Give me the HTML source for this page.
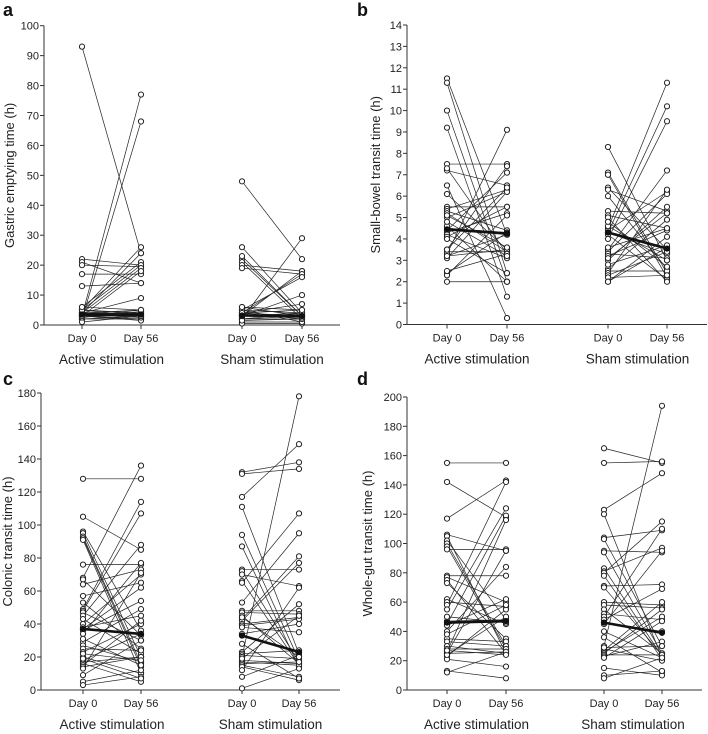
<!DOCTYPE html>
<html><head><meta charset="utf-8"><style>
html,body{margin:0;padding:0;background:#fff}
svg{display:block;font-family:"Liberation Sans",Arial,sans-serif}
</style></head><body>
<svg id="fig" width="708" height="734" viewBox="0 0 708 734" xmlns="http://www.w3.org/2000/svg"></svg>
<script>
// Panel a: gastric emptying (Day 0 / Day 56 pairs)
const aActD0 =[93,3,2,5,4,22,21,20,17,13,6,5,4,3,4,3,4,3,3,2,4,5,3,2,1,3,4,2.5,3.5,5,6,3];
const aActD56=[24,77,68,26,24,20,14,19.5,17,14,21,20,19,18,9,5,5,4,3,3,4,3,2,2,3,1.5,3.5,4.5,2.5,4,5,3];
const aShD0  =[48,26,22,21,20,19,23,2,3,4,5,3,4,6,5,4,3,2,1,3,2,4,0.5,5,3,2,6,1.5,4,3];
const aShD56 =[22,4,3,2,18,17,3,29,18,17,16,10,7,5,4,3,3,2,1,4,3,2,0.5,1,3.5,4,3,2,5,2.5];
const aMed=[3.5,3.5,3.2,3.0];
// Panel b: small-bowel transit
const bActD0 =[11.5,11.3,10.0,9.2,7.5,7.2,7.3,6.5,6.1,5.5,5.4,5.3,5.2,5.0,4.5,4.4,4.3,4.2,4.1,4.0,3.5,3.4,3.3,3.2,3.1,3.2,2.4,2.3,2.0,2.5,4.6,5.1,3.5,4.8];
const bActD56=[4.2,2.4,2.0,1.3,7.5,6.5,3.3,0.3,3.5,5.5,6.3,4.4,3.4,6.2,4.3,7.1,5.2,3.1,5.5,2.4,7.4,3.4,9.1,4.2,6.2,3.5,4.3,5.1,2.0,3.3,2.0,3.6,6.4,3.2];
const bShD0  =[8.3,7.1,7.0,6.4,6.3,6.0,5.3,5.1,4.5,4.4,4.3,4.3,4.2,4.0,3.5,3.4,3.3,3.2,3.0,2.6,2.5,2.4,2.3,2.2,2.0,2.0,5.0,4.6,3.1,3.6,4.8,2.8];
const bShD56 =[3.0,2.4,2.2,3.5,5.3,2.6,5.2,4.5,11.3,6.2,10.2,3.3,2.1,9.5,7.2,6.1,3.1,4.4,5.5,4.9,2.5,6.3,3.4,2.3,4.1,3.6,2.0,3.0,5.2,4.5,2.7,3.7];
const bMed=[4.45,4.25,4.3,3.55];
// Panel c: colonic transit
const cActD0 =[128,105,96,95,93,92,91,76,68,67,64,57,53,49,48,47,45,43,40,38,37,36,34,29,27,25,23,20,18,17,16,15,14,13,9,5,3,22,19,31];
const cActD56=[128,85,36,20,16,14,10,76,136,33,73,65,25,114,107,30,88,22,70,45,62,54,77,49,17,24,40,10,34,20,5,42,20,71,30,12,8,18,7,15];
const cShD0  =[132,131,117,111,94,87,73,72,70,66,65,53,48,47,45,43,42,40,39,38,34,33,23,22,21,20,18,17,16,15,14,12,8,1,19,28,44];
const cShD56 =[138,134,149,22,18,14,73,17,63,15,107,95,48,46,16,81,77,44,43,35,40,23,52,24,19,178,16,15,17,8,6,62,21,13,45,7,20];
const cMed=[37,34,33,23];
// Panel d: whole-gut transit
const dActD0 =[155,142,117,106,105,102,100,98,96,78,77,75,73,62,60,58,55,47,45,44,40,35,33,30,28,26,25,25,23,21,13,12,24,27,50,38];
const dActD56=[155,118,143,95,25,48,30,28,96,78,60,25,35,45,57,142,124,48,119,62,84,33,30,25,28,116,26,95,55,16,8,26,50,24,46,58];
const dShD0  =[165,155,123,120,104,103,95,94,83,81,80,78,71,70,60,58,55,52,50,48,46,45,40,36,30,28,27,26,25,24,23,15,10,8,22,29];
const dShD56 =[155,156,148,22,109,30,94,25,23,97,115,21,72,24,58,56,25,48,110,69,40,95,22,12,194,20,60,50,55,24,33,10,13,22,47,30];
const dMed=[46,47,46,39];
const aTicks=[0,10,20,30,40,50,60,70,80,90,100];
const bTicks=[0,1,2,3,4,5,6,7,8,9,10,11,12,13,14];
const cTicks=[0,20,40,60,80,100,120,140,160,180];
const dTicks=[0,20,40,60,80,100,120,140,160,180,200];

const NS='http://www.w3.org/2000/svg';
const fig=document.getElementById('fig');
function mk(tag,attrs,parent,txt){const e=document.createElementNS(NS,tag);for(const k in attrs)e.setAttribute(k,attrs[k]);if(txt!==undefined)e.textContent=txt;(parent||fig).appendChild(e);return e;}

function panel(o){
  const g=mk('g',{});
  
  
  const y=v=>o.y0-(v/o.max)*(o.y0-o.yTop);
  // letter
  const L=mk('text',{x:o.lx,y:o.ly,'font-size':18,'font-weight':'bold',fill:'#111'},g,o.letter);
  
  
  // axes
  const ya=mk('line',{x1:o.ax,y1:o.yTop,x2:o.ax,y2:o.y0,stroke:'#333','stroke-width':1},g);
  
  
  const xa=mk('line',{x1:o.ax,y1:o.y0,x2:o.xEnd,y2:o.y0,stroke:'#333','stroke-width':1},g);
  
  
  o.ticks.forEach(t=>{
    mk('line',{x1:o.ax-4,y1:y(t),x2:o.ax,y2:y(t),stroke:'#333','stroke-width':1},g);
    const tl=mk('text',{x:o.ax-5,y:y(t)+4,'font-size':11,'text-anchor':'end',fill:'#222'},g,String(t));
    
    
  });
  const yt=mk('text',{x:0,y:0,'font-size':13,'text-anchor':'middle',fill:'#222',transform:`translate(${o.titleX},${(o.y0+o.yTop)/2}) rotate(-90)`},g,o.title);
  
  
  o.xs.forEach((x,i)=>{
    mk('line',{x1:x,y1:o.y0,x2:x,y2:o.y0+4,stroke:'#333','stroke-width':1},g);
    const xl=mk('text',{x:x,y:o.y0+17,'font-size':11,'text-anchor':'middle',fill:'#222'},g,i%2?'Day 56':'Day 0');
    
    
  });
  const gl1=mk('text',{x:(o.xs[0]+o.xs[1])/2,y:o.y0+39,'font-size':13.5,'text-anchor':'middle',fill:'#222'},g,'Active stimulation');
  
  
  const gl2=mk('text',{x:(o.xs[2]+o.xs[3])/2,y:o.y0+39,'font-size':13.5,'text-anchor':'middle',fill:'#222'},g,'Sham stimulation');
  
  
  const groups=[[o.act0,o.act56,o.xs[0],o.xs[1]],[o.sh0,o.sh56,o.xs[2],o.xs[3]]];
  groups.forEach(([d0,d56,x0,x1])=>{
    d0.forEach((v,i)=>{
      const l=mk('line',{x1:x0,y1:y(v),x2:x1,y2:y(d56[i]),stroke:'#222','stroke-width':0.7},g);
      
      
    });
  });
  // medians
  [[o.med[0],o.med[1],o.xs[0],o.xs[1]],[o.med[2],o.med[3],o.xs[2],o.xs[3]]].forEach(([a,b,x0,x1])=>{
    const m=mk('line',{x1:x0,y1:y(a),x2:x1,y2:y(b),stroke:'#111','stroke-width':2.6},g);
    
    
  });
  groups.forEach(([d0,d56,x0,x1])=>{
    d0.forEach((v,i)=>{
      const c1=mk('circle',{cx:x0,cy:y(v),r:2.6,fill:'#fff',stroke:'#222','stroke-width':1},g);
      
      
      const c2=mk('circle',{cx:x1,cy:y(d56[i]),r:2.6,fill:'#fff',stroke:'#222','stroke-width':1},g);
      
      
    });
  });
  [[o.med[0],o.xs[0]],[o.med[1],o.xs[1]],[o.med[2],o.xs[2]],[o.med[3],o.xs[3]]].forEach(([v,x])=>{
    const mc=mk('circle',{cx:x,cy:y(v),r:2.6,fill:'#111',stroke:'#111'},g);
    
    
  });
}
panel({letter:'a',lx:3,ly:16,ax:44,y0:325,yTop:25.7,max:100,xEnd:340,titleX:14,ticks:aTicks,xs:[82,141,242,302],
  title:'Gastric emptying time (h)',act0:aActD0,act56:aActD56,sh0:aShD0,sh56:aShD56,med:aMed});
panel({letter:'b',lx:357,ly:16,ax:407,y0:324.5,yTop:25,max:14,xEnd:707,titleX:380,ticks:bTicks,xs:[447,507,608,667],
  title:'Small-bowel transit time (h)',act0:bActD0,act56:bActD56,sh0:bShD0,sh56:bShD56,med:bMed});
panel({letter:'c',lx:3,ly:385,ax:41,y0:690,yTop:393,max:180,xEnd:340,titleX:12,ticks:cTicks,xs:[83,141,242,299],
  title:'Colonic transit time (h)',act0:cActD0,act56:cActD56,sh0:cShD0,sh56:cShD56,med:cMed});
panel({letter:'d',lx:357,ly:385,ax:407,y0:690,yTop:397,max:200,xEnd:702,titleX:372,ticks:dTicks,xs:[447,506,604,662],
  title:'Whole-gut transit time (h)',act0:dActD0,act56:dActD56,sh0:dShD0,sh56:dShD56,med:dMed});
</script>
</body></html>
